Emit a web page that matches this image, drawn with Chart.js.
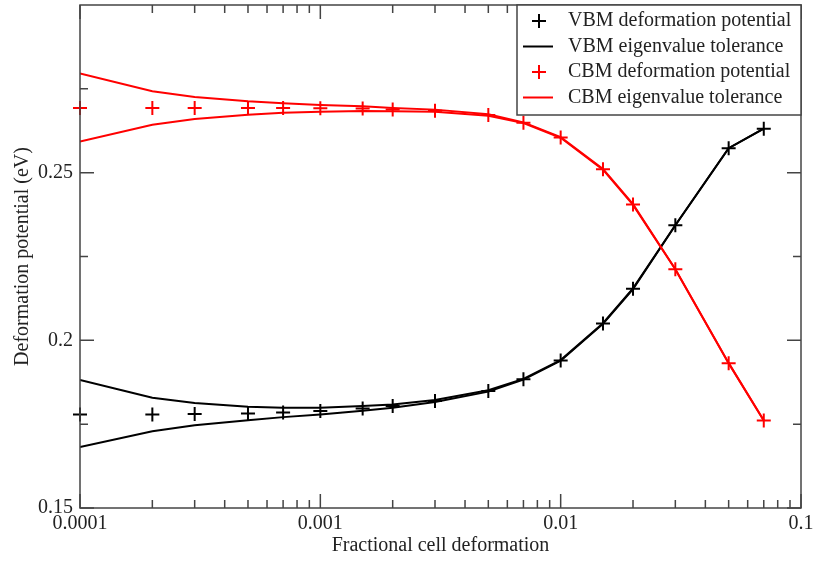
<!DOCTYPE html>
<html>
<head>
<meta charset="utf-8">
<script src="https://cdn.jsdelivr.net/npm/chart.js@4"></script>
<style>
  html, body { margin: 0; padding: 0; background: #fff; }
  canvas { display: block; }
</style>
</head>
<body>
<canvas id="chart" width="814" height="561"></canvas>
<script>
// --- data ---
const xValues = [0.0001, 0.0002, 0.0003, 0.0005, 0.0007, 0.001, 0.0015, 0.002, 0.003, 0.005, 0.007, 0.01, 0.015, 0.02, 0.03, 0.05, 0.07];

const vbmPoints = [0.1779, 0.1779, 0.1780, 0.1782, 0.1785, 0.1789, 0.1797, 0.1804, 0.1819, 0.1849, 0.1884, 0.1940, 0.2050, 0.2154, 0.2343, 0.2573, 0.2631];
const vbmUpper  = [0.1882, 0.1829, 0.1813, 0.1802, 0.1799, 0.1799, 0.1804, 0.1809, 0.1822, 0.1851, 0.1885, 0.1941, 0.2051, 0.2155, 0.2343, 0.2573, 0.2631];
const vbmLower  = [0.1682, 0.1729, 0.1747, 0.1762, 0.1771, 0.1779, 0.1790, 0.1799, 0.1816, 0.1847, 0.1883, 0.1939, 0.2049, 0.2153, 0.2343, 0.2573, 0.2631];

const cbmPoints = [0.2693, 0.2693, 0.2693, 0.2693, 0.2693, 0.2692, 0.2691, 0.2688, 0.2685, 0.2672, 0.2649, 0.2605, 0.2510, 0.2405, 0.2212, 0.1932, 0.1761];
const cbmUpper  = [0.2796, 0.2743, 0.2726, 0.2713, 0.2707, 0.2702, 0.2698, 0.2693, 0.2688, 0.2674, 0.2650, 0.2606, 0.2511, 0.2406, 0.2212, 0.1932, 0.1761];
const cbmLower  = [0.2593, 0.2643, 0.2660, 0.2673, 0.2679, 0.2682, 0.2684, 0.2683, 0.2682, 0.2670, 0.2648, 0.2604, 0.2509, 0.2404, 0.2212, 0.1932, 0.1761];

const xTicks = [0.0001, 0.001, 0.01, 0.1];
const xTickLabels = ["0.0001", "0.001", "0.01", "0.1"];
const xMinorTicks = [2e-4, 3e-4, 4e-4, 5e-4, 6e-4, 7e-4, 8e-4, 9e-4,
                     2e-3, 3e-3, 4e-3, 5e-3, 6e-3, 7e-3, 8e-3, 9e-3,
                     2e-2, 3e-2, 4e-2, 5e-2, 6e-2, 7e-2, 8e-2, 9e-2];
const yTicks = [0.15, 0.2, 0.25];
const yTickLabels = ["0.15", "0.2", "0.25"];
const yMinorTicks = [0.175, 0.225, 0.275];

const legendLabels = ["VBM deformation potential", "VBM eigenvalue tolerance", "CBM deformation potential", "CBM eigenvalue tolerance"];

const FONT = "'Liberation Serif', 'DejaVu Serif', serif";
const TEXT = "#222";
const FRAME = "#444";

const pts = (ys) => xValues.map((x, i) => ({ x: x, y: ys[i] }));

function crossSet(label, ys, color) {
  return { label, data: pts(ys), showLine: false, pointStyle: "cross",
    pointRadius: 7, pointHoverRadius: 7, pointBorderWidth: 2, clip: false,
    borderColor: color, backgroundColor: color };
}
function lineSet(label, ys, color) {
  return { label, data: pts(ys), showLine: true, pointRadius: 0,
    borderColor: color, borderWidth: 2, tension: 0, fill: false };
}

// --- inward ticks, frame and legend ---
const framePlugin = {
  id: "frameTicks",
  afterDraw(chart) {
    const { ctx, chartArea: a, scales } = chart;
    const xs = scales.x, ys = scales.y;
    ctx.save();
    ctx.strokeStyle = FRAME;
    ctx.lineWidth = 1.5;
    ctx.beginPath();
    const tick = (list, len) => {
      list.forEach(v => {
        const px = xs.getPixelForValue(v);
        ctx.moveTo(px, a.bottom); ctx.lineTo(px, a.bottom - len);
        ctx.moveTo(px, a.top); ctx.lineTo(px, a.top + len);
      });
    };
    tick(xTicks, 14);
    tick(xMinorTicks, 8);
    const ytick = (list, len) => {
      list.forEach(v => {
        const py = ys.getPixelForValue(v);
        ctx.moveTo(a.left, py); ctx.lineTo(a.left + len, py);
        ctx.moveTo(a.right, py); ctx.lineTo(a.right - len, py);
      });
    };
    ytick(yTicks, 14);
    ytick(yMinorTicks, 8);
    ctx.stroke();
    ctx.strokeRect(a.left, a.top, a.right - a.left, a.bottom - a.top);

    // legend box in the top right corner
    const lx = 517, ly = a.top, lw = a.right - 517, lh = 110;
    ctx.fillStyle = "#fff";
    ctx.fillRect(lx, ly, lw, lh);
    ctx.strokeRect(lx, ly, lw, lh);
    const colors = ["#000", "#000", "#ff0000", "#ff0000"];
    ctx.font = "20px " + FONT;
    ctx.textBaseline = "middle";
    legendLabels.forEach((txt, i) => {
      const cy = ly + 16 + i * 25.5;
      ctx.strokeStyle = colors[i];
      ctx.lineWidth = 2;
      ctx.beginPath();
      if (i % 2 === 0) {
        ctx.moveTo(532, cy); ctx.lineTo(546, cy);
        ctx.moveTo(539, cy - 7); ctx.lineTo(539, cy + 7);
      } else {
        ctx.moveTo(523, cy); ctx.lineTo(553, cy);
      }
      ctx.stroke();
      ctx.fillStyle = TEXT;
      ctx.fillText(txt, 568, cy);
    });
    ctx.restore();
  }
};

new Chart(document.getElementById("chart"), {
  type: "scatter",
  data: {
    datasets: [
      crossSet(legendLabels[2], cbmPoints, "#ff0000"),
      lineSet(legendLabels[3], cbmUpper, "#ff0000"),
      lineSet(legendLabels[3], cbmLower, "#ff0000"),
      crossSet(legendLabels[0], vbmPoints, "#000"),
      lineSet(legendLabels[1], vbmUpper, "#000"),
      lineSet(legendLabels[1], vbmLower, "#000"),
    ],
  },
  options: {
    responsive: false,
    animation: false,
    layout: { autoPadding: false, padding: { top: 5, right: 13, left: 0, bottom: 0 } },
    plugins: { legend: { display: false }, tooltip: { enabled: false } },
    scales: {
      x: {
        type: "logarithmic",
        min: 0.0001,
        max: 0.1,
        grid: { display: false, drawTicks: false },
        border: { display: false },
        afterBuildTicks: (s) => { s.ticks = xTicks.map(v => ({ value: v })); },
        afterFit: (s) => { s.height = 53; s.paddingLeft = 0; s.paddingRight = 0; },
        ticks: {
          autoSkip: false, maxRotation: 0, padding: 4, color: TEXT,
          font: { family: FONT, size: 20 },
          callback: (v) => xTickLabels[xTicks.indexOf(v)] ?? "",
        },
        title: {
          display: true, text: "Fractional cell deformation", color: TEXT,
          font: { family: FONT, size: 20 }, padding: { top: 0, bottom: 3 },
        },
      },
      y: {
        min: 0.15,
        max: 0.3,
        grid: { display: false, drawTicks: false },
        border: { display: false },
        afterBuildTicks: (s) => { s.ticks = yTicks.map(v => ({ value: v })); },
        afterFit: (s) => { s.width = 80; s.paddingTop = 0; s.paddingBottom = 0; },
        ticks: {
          autoSkip: false, padding: 7, color: TEXT,
          font: { family: FONT, size: 20 },
          callback: (v) => yTickLabels[yTicks.indexOf(v)] ?? "",
        },
        title: {
          display: true, text: "Deformation potential (eV)", color: TEXT,
          font: { family: FONT, size: 20 }, padding: { top: 11, bottom: 0 },
        },
      },
    },
  },
  plugins: [framePlugin],
});
</script>
</body>
</html>
